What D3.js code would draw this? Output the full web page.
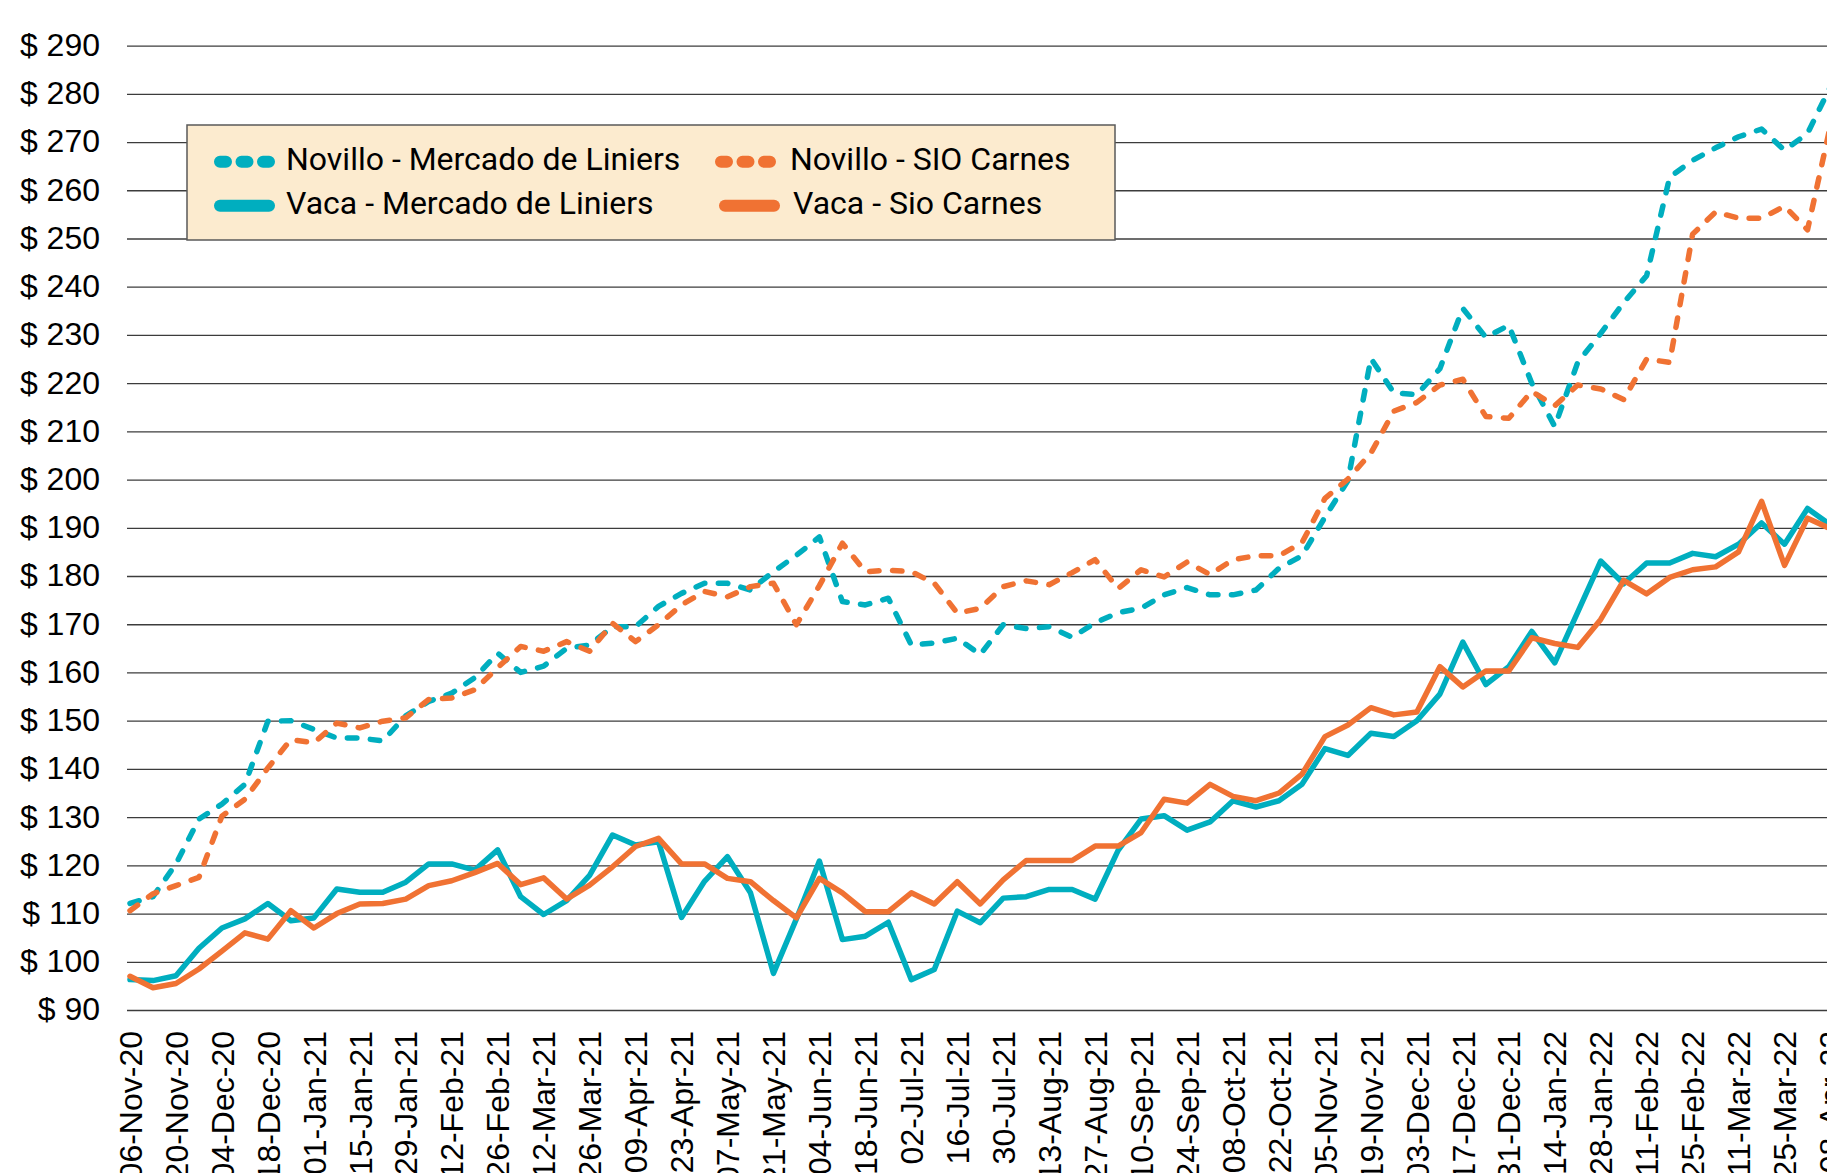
<!DOCTYPE html>
<html>
<head>
<meta charset="utf-8">
<script src="https://cdn.jsdelivr.net/npm/d3@7"></script>
<style>
  body { margin: 0; background: #fff; }
  svg { display: block; font-family: Roboto, "Liberation Sans", sans-serif; }
</style>
</head>
<body>
<svg id="chart" width="1827" height="1173"></svg>
<script>
// weekly dates (category axis)
const dates = [
    '06-Nov-20', '13-Nov-20', '20-Nov-20', '27-Nov-20', '04-Dec-20', '11-Dec-20', '18-Dec-20', '25-Dec-20',
    '01-Jan-21', '08-Jan-21', '15-Jan-21', '22-Jan-21', '29-Jan-21', '05-Feb-21', '12-Feb-21', '19-Feb-21',
    '26-Feb-21', '05-Mar-21', '12-Mar-21', '19-Mar-21', '26-Mar-21', '02-Apr-21', '09-Apr-21', '16-Apr-21',
    '23-Apr-21', '30-Apr-21', '07-May-21', '14-May-21', '21-May-21', '28-May-21', '04-Jun-21', '11-Jun-21',
    '18-Jun-21', '25-Jun-21', '02-Jul-21', '09-Jul-21', '16-Jul-21', '23-Jul-21', '30-Jul-21', '06-Aug-21',
    '13-Aug-21', '20-Aug-21', '27-Aug-21', '03-Sep-21', '10-Sep-21', '17-Sep-21', '24-Sep-21', '01-Oct-21',
    '08-Oct-21', '15-Oct-21', '22-Oct-21', '29-Oct-21', '05-Nov-21', '12-Nov-21', '19-Nov-21', '26-Nov-21',
    '03-Dec-21', '10-Dec-21', '17-Dec-21', '24-Dec-21', '31-Dec-21', '07-Jan-22', '14-Jan-22', '21-Jan-22',
    '28-Jan-22', '04-Feb-22', '11-Feb-22', '18-Feb-22', '25-Feb-22', '04-Mar-22', '11-Mar-22', '18-Mar-22',
    '25-Mar-22', '01-Apr-22', '08-Apr-22'
];

const novilloLiniers = [
    112.1, 113.5, 120.3, 129.6, 132.7, 136.8, 149.9, 150.0, 148.2, 146.4,
    146.4, 145.8, 151.0, 154.0, 155.7, 158.9, 164.0, 160.0, 161.3, 165.0,
    165.7, 169.5, 169.5, 173.7, 176.4, 178.5, 178.5, 177.1, 180.9, 184.3,
    188.1, 174.7, 174.0, 175.4, 165.7, 166.1, 167.1, 163.7, 169.9, 169.1,
    169.5, 167.3, 170.3, 172.4, 173.3, 176.1, 177.6, 176.1, 176.1, 177.1,
    181.6, 184.2, 192.2, 199.8, 225.1, 218.0, 217.6, 223.0, 235.5, 229.5,
    232.0, 220.0, 211.0, 224.3, 230.3, 236.7, 242.3, 262.7, 266.2, 268.8,
    271.1, 272.7, 268.3, 271.8, 281.5
];

const novilloSio = [
    110.6, 114.1, 115.8, 117.5, 130.2, 133.7, 140.2, 146.1, 145.4, 149.5,
    148.5, 149.9, 150.6, 154.4, 154.7, 156.4, 161.0, 165.4, 164.4, 166.4,
    164.4, 170.2, 166.4, 169.9, 174.0, 176.8, 175.7, 177.8, 178.5, 169.9,
    178.0, 186.8, 180.9, 181.2, 180.9, 178.5, 172.3, 173.3, 177.8, 179.0,
    178.2, 180.7, 183.4, 177.4, 181.3, 179.8, 182.9, 180.3, 183.4, 184.2,
    184.2, 186.9, 196.1, 200.1, 205.5, 214.2, 216.0, 219.6, 220.8, 213.1,
    212.7, 218.3, 215.3, 219.6, 218.8, 216.6, 225.0, 224.3, 250.9, 255.5,
    254.2, 254.2, 256.7, 251.8, 273.5
];

const vacaLiniers = [
    96.3, 96.1, 97.1, 102.8, 107.0, 108.9, 112.1, 108.5, 109.1, 115.1,
    114.4, 114.4, 116.5, 120.3, 120.3, 119.0, 123.2, 113.5, 109.8, 112.7,
    117.9, 126.3, 124.2, 124.9, 109.2, 116.7, 121.8, 114.3, 97.6, 108.9,
    120.9, 104.6, 105.3, 108.2, 96.3, 98.4, 110.5, 108.1, 113.2, 113.5,
    115.0, 115.0, 113.0, 123.1, 129.6, 130.3, 127.3, 129.0, 133.4, 132.1,
    133.4, 136.8, 144.2, 142.8, 147.4, 146.7, 150.0, 155.5, 166.3, 157.5,
    161.2, 168.5, 162.0, 172.5, 183.1, 178.4, 182.7, 182.7, 184.7, 184.0,
    186.6, 191.0, 186.6, 194.0, 190.6
];

const vacaSio = [
    97.0, 94.6, 95.5, 98.5, 102.2, 106.0, 104.7, 110.6, 107.0, 110.0,
    112.0, 112.1, 113.0, 115.8, 116.8, 118.5, 120.4, 116.0, 117.4, 113.0,
    115.9, 119.7, 123.9, 125.6, 120.3, 120.3, 117.3, 116.6, 112.7, 109.1,
    117.3, 114.3, 110.4, 110.4, 114.3, 112.0, 116.6, 112.0, 117.0, 121.0,
    121.0, 121.0, 124.0, 124.0, 126.8, 133.7, 132.9, 136.8, 134.3, 133.4,
    135.0, 138.9, 146.7, 149.1, 152.7, 151.2, 151.8, 161.2, 157.0, 160.3,
    160.3, 167.2, 166.0, 165.2, 171.0, 179.1, 176.3, 179.7, 181.3, 181.9,
    185.0, 195.5, 182.2, 192.0, 189.8
];

const yTicks = [90, 100, 110, 120, 130, 140, 150, 160, 170, 180, 190, 200, 210, 220, 230, 240, 250, 260, 270, 280, 290];
const xTicks = dates.filter((d, i) => i % 2 === 0);

const TEAL = '#00aebf';
const ORANGE = '#f07233';

const series = [
    { name: 'Novillo - Mercado de Liniers', values: novilloLiniers, color: TEAL, dashed: true },
    { name: 'Novillo - SIO Carnes', values: novilloSio, color: ORANGE, dashed: true },
    { name: 'Vaca - Mercado de Liniers', values: vacaLiniers, color: TEAL, dashed: false },
    { name: 'Vaca - Sio Carnes', values: vacaSio, color: ORANGE, dashed: false }
];

const svg = d3.select('#chart');

const x = d3.scalePoint().domain(dates).range([130, 1830.5]);
const y = d3.scaleLinear().domain([90, 290]).range([1010, 45.6]);

function drawAxes() {
    // y axis with full-width gridlines
    const yAxis = svg.append('g')
        .attr('transform', 'translate(127,0)')
        .call(d3.axisLeft(y)
            .tickValues(yTicks)
            .tickSize(-1700)
            .tickPadding(27)
            .tickFormat(d => `$ ${d}`));
    yAxis.select('.domain').remove();
    yAxis.selectAll('line')
        .attr('stroke', '#3c3c3c')
        .attr('stroke-width', 1.3);
    yAxis.selectAll('text')
        .attr('fill', '#000')
        .attr('font-size', 32)
        .attr('dy', '0.31em');

    // x axis, rotated labels
    const xAxis = svg.append('g')
        .attr('transform', 'translate(0,1010)')
        .call(d3.axisBottom(x).tickValues(xTicks).tickSize(0));
    xAxis.select('.domain').remove();
    xAxis.selectAll('text')
        .attr('fill', '#000')
        .attr('font-size', 32)
        .attr('transform', 'rotate(-90)')
        .attr('text-anchor', 'end')
        .attr('x', -21)
        .attr('y', 0)
        .attr('dy', '0.35em');
}

function drawLines() {
    const line = d3.line()
        .x((d, i) => x(dates[i]))
        .y(d => y(d));

    svg.append('g')
        .selectAll('path')
        .data(series)
        .enter()
        .append('path')
        .attr('fill', 'none')
        .attr('stroke', d => d.color)
        .attr('stroke-width', 5.5)
        .attr('stroke-linejoin', 'round')
        .attr('stroke-linecap', 'round')
        .attr('stroke-dasharray', d => d.dashed ? '9.5,13.5' : null)
        .attr('d', d => line(d.values));
}

function drawLegend() {
    const legend = svg.append('g');
    legend.append('rect')
        .attr('x', 187)
        .attr('y', 125)
        .attr('width', 928)
        .attr('height', 115)
        .attr('fill', '#fcebcf')
        .attr('stroke', '#5a5a5a')
        .attr('stroke-width', 1.5);

    // slot positions: two columns, two rows
    const slots = [
        { sx: 220, tx: 286, row: 0 },
        { sx: 721, tx: 790, row: 0 },
        { sx: 220, tx: 286, row: 1 },
        { sx: 725, tx: 793, row: 1 }
    ];

    const items = legend.selectAll('g.item')
        .data(series)
        .enter()
        .append('g')
        .attr('class', 'item')
        .attr('transform', (d, i) => `translate(0,${slots[i].row * 44})`);

    items.append('line')
        .attr('x1', (d, i) => slots[i].sx)
        .attr('x2', (d, i) => slots[i].sx + 49)
        .attr('y1', 161.7)
        .attr('y2', 161.7)
        .attr('stroke', d => d.color)
        .attr('stroke-width', 12)
        .attr('stroke-linecap', 'round')
        .attr('stroke-dasharray', d => d.dashed ? '6,15.5' : null);

    items.append('text')
        .attr('x', (d, i) => slots[i].tx)
        .attr('y', 169.5)
        .attr('font-size', 32)
        .attr('fill', '#000')
        .text(d => d.name);
}

drawAxes();
drawLines();
drawLegend();
</script>
</body>
</html>
